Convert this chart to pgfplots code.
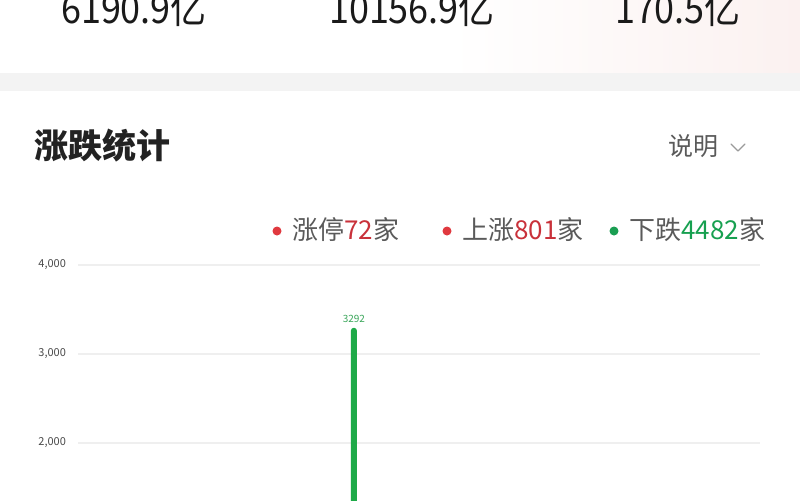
\documentclass[border=0pt]{standalone}
\usepackage{pgfplots}
\pgfplotsset{compat=1.18}
\usepackage{fontspec}
\setmainfont{Noto Sans CJK SC}
\definecolor{numblack}{HTML}{1A1A1A}
\definecolor{titlec}{HTML}{222222}
\definecolor{graytxt}{HTML}{5A5A5A}
\definecolor{lgray}{HTML}{9A9A9A}
\definecolor{dotred}{HTML}{E0393F}
\definecolor{numred}{HTML}{C9313A}
\definecolor{dotgreen}{HTML}{1A9E52}
\definecolor{numgreen}{HTML}{17A050}
\definecolor{barg}{HTML}{1EAA48}
\definecolor{lblg}{HTML}{3AA65A}
\definecolor{band}{HTML}{F3F3F3}
\definecolor{gridc}{HTML}{EFEFEF}
\definecolor{ticktxt}{HTML}{4A4A4A}
\definecolor{pinkbg}{HTML}{FBF1F0}
\begin{document}
\begin{tikzpicture}
\useasboundingbox (0,0) rectangle (400pt,-250pt);
\clip (0,0) rectangle (400pt,-250pt);
\fill[white] (0,0) rectangle (400pt,-250pt);
\begin{scope}[x=0.5pt,y=-0.5pt]
  \shade[left color=white,right color=pinkbg] (450,0) rectangle (800,73);
  \fill[band] (0,73) rectangle (800,91);
  % top figures (cut off at the top, as in the screenshot)
  \node[anchor=base, inner sep=0, font=\fontsize{20}{22}\selectfont, text=numblack] at (134,23.5) {\scalebox{0.9}[1]{6190.9亿}};
  \node[anchor=base, inner sep=0, font=\fontsize{20}{22}\selectfont, text=numblack] at (412,23.5) {\scalebox{0.9}[1]{10156.9亿}};
  \node[anchor=base, inner sep=0, font=\fontsize{20}{22}\selectfont, text=numblack] at (678,23.5) {\scalebox{0.9}[1]{170.5亿}};
  % title
  \node[anchor=west, inner sep=0, font=\fontsize{17}{20}\selectfont\bfseries, text=titlec] at (34,146) {涨跌统计};
  \node[anchor=east, inner sep=0, font=\fontsize{12.5}{14}\selectfont, text=graytxt] at (719,146) {说明};
  \draw[lgray, line width=0.6pt, line cap=round, line join=round] (731,144) -- (738,151) -- (745,144);
  % legend
  \fill[dotred] (277,231) circle (4.5);
  \node[anchor=west, inner sep=0, font=\fontsize{13}{15}\selectfont, text=graytxt] at (292,230) {涨停\textcolor{numred}{72}家};
  \fill[dotred] (447,231) circle (4.5);
  \node[anchor=west, inner sep=0, font=\fontsize{13}{15}\selectfont, text=graytxt] at (462,230) {上涨\textcolor{numred}{801}家};
  \fill[dotgreen] (614,231) circle (4.5);
  \node[anchor=west, inner sep=0, font=\fontsize{13}{15}\selectfont, text=graytxt] at (629,230) {下跌\textcolor{numgreen}{4482}家};
\end{scope}
\begin{axis}[
  at={(39pt,-257pt)}, anchor=south west,
  scale only axis, width=341pt, height=124.6pt,
  xmin=-0.45, xmax=10.55, ymin=1200, ymax=4000,
  clip=false,
  axis line style={draw=none}, tick style={draw=none},
  xtick=\empty, ytick={2000,3000,4000},
  ymajorgrids, grid style={color=gridc, line width=0.7pt},
  /pgf/number format/assume math mode=true,
  /pgf/number format/1000 sep={,},
  yticklabel style={font=\fontsize{5.5}{6}\selectfont, text=ticktxt, xshift=-2.5pt},
]
\addplot[ybar, bar width=3pt, fill=barg, draw=none, rounded corners=1.4pt,
  nodes near coords,
  nodes near coords style={font=\fontsize{5}{6}\selectfont, text=lblg, yshift=-1pt, /pgf/number format/1000 sep={}}]
  coordinates {(4,3292)};
\end{axis}
\end{tikzpicture}
\end{document}
